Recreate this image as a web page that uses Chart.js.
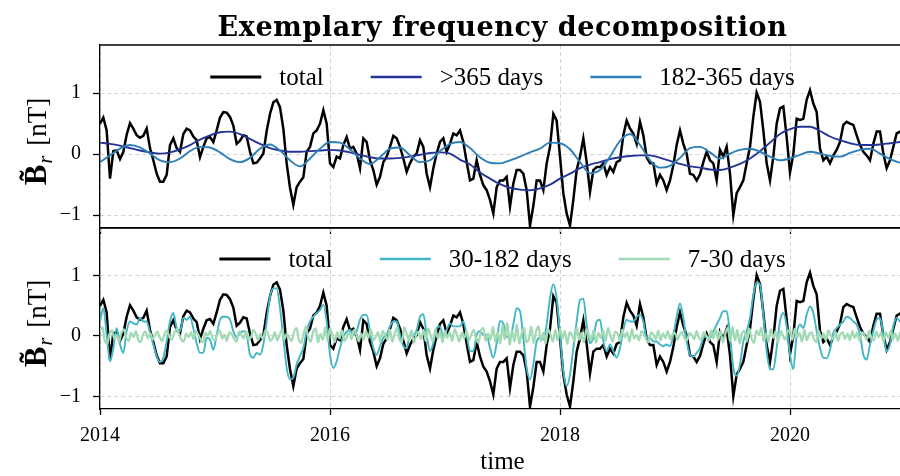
<!DOCTYPE html>
<html>
<head>
<meta charset="utf-8">
<script src="https://cdn.jsdelivr.net/npm/chart.js@4.4.1/dist/chart.umd.min.js"></script>
<style>
  html, body { margin: 0; padding: 0; background: #fff; }
  #wrap { position: relative; width: 900px; height: 476px; overflow: hidden; }
  #wrap canvas { position: absolute; left: 0; }
  #top { top: 0; }
  #bottom { top: 180px; }
</style>
</head>
<body>
<div id="wrap">
  <canvas id="top" width="906" height="258"></canvas>
  <canvas id="bottom" width="906" height="296"></canvas>
</div>
<script>
// time axis: decimal years
const T0 = 2014;
const STEP = 2 / 69;        // ~10.6 days, total and 30-182 day band
const SLOW_STEP = 6 / 69;   // ~32 days, the two slow bands
const NOISE_STEP = 1 / 48;  // ~7.6 days, 7-30 day band

const xTicks = [2014, 2016, 2018, 2020];
const yTicks = [-1, 0, 1];

const total = [
  0.50, 0.60, 0.39, -0.40, 0.05, 0.06, -0.08, 0.04, 0.32, 0.51,
  0.42, 0.31, 0.27, 0.30, 0.42, 0.10, -0.10, -0.32, -0.45, -0.45,
  -0.34, 0.15, 0.26, 0.10, 0.04, 0.33, 0.42, 0.39, 0.29, 0.23,
  -0.05, 0.12, 0.26, 0.28, 0.20, 0.39, 0.60, 0.69, 0.68, 0.61,
  0.47, 0.17, 0.22, 0.31, 0.29, 0.04, -0.15, -0.14, -0.07, 0.01,
  0.38, 0.66, 0.85, 0.89, 0.77, 0.42, -0.15, -0.55, -0.83, -0.54,
  -0.45, -0.38, 0.04, 0.12, 0.34, 0.39, 0.50, 0.72, 0.50, -0.15,
  -0.21, -0.04, -0.07, 0.15, 0.28, 0.09, 0.12, 0.01, -0.23, 0.26,
  0.20, -0.10, -0.26, -0.50, -0.37, -0.13, -0.04, 0.12, 0.30, 0.26,
  0.12, -0.07, -0.29, -0.15, -0.04, 0.01, 0.23, 0.12, -0.32, -0.54,
  -0.23, 0.01, 0.20, 0.26, 0.04, 0.17, 0.34, 0.31, 0.39, 0.20,
  -0.13, -0.43, -0.40, -0.10, -0.34, -0.51, -0.59, -0.75, -0.97, -0.54,
  -0.43, -0.43, -0.37, -0.86, -0.48, -0.26, -0.26, -0.32, -0.59, -1.17,
  -0.85, -0.43, -0.43, -0.59, -0.15, 0.12, 0.66, 0.55, -0.04, -0.64,
  -0.97, -1.17, -0.75, -0.26, -0.04, 0.26, -0.13, -0.62, -0.26, -0.21,
  -0.21, -0.15, -0.34, -0.21, -0.29, -0.13, -0.10, 0.31, 0.55, 0.42,
  0.34, 0.17, 0.53, 0.31, -0.05, -0.15, -0.15, -0.48, -0.34, -0.43,
  -0.59, -0.43, -0.18, 0.15, 0.39, 0.17, 0.01, -0.32, -0.34, -0.43,
  -0.33, -0.13, 0.04, -0.10, -0.15, -0.43, 0.07, -0.04, 0.12, -0.32,
  -1.00, -0.64, -0.54, -0.43, -0.15, 0.12, 0.61, 1.01, 0.86, 0.39,
  -0.15, -0.43, -0.04, 0.50, 0.75, 0.78, 0.28, -0.30, 0.00, 0.58,
  0.56, 0.58, 0.89, 1.05, 0.83, 0.69, 0.09, -0.10, -0.04, -0.15,
  -0.02, 0.07, 0.20, 0.48, 0.53, 0.50, 0.48, 0.31, 0.15, 0.04,
  -0.02, -0.10, 0.17, 0.37, 0.37, 0.01, -0.23, -0.10, 0.12, 0.34,
  0.37, 0.30
];

const band30to182 = [
  0.24, 0.46, 0.02, -0.42, -0.20, 0.13, -0.14, -0.28, 0.08, 0.24,
  0.21, 0.19, 0.30, 0.24, 0.24, 0.05, -0.14, -0.34, -0.43, -0.36,
  -0.09, 0.24, 0.38, 0.13, 0.08, 0.30, 0.27, 0.32, 0.13, -0.12,
  -0.28, -0.28, -0.03, -0.06, -0.23, 0.02, 0.27, 0.32, 0.32, 0.27,
  0.08, -0.03, 0.05, 0.08, 0.02, -0.31, -0.36, -0.28, -0.31, -0.14,
  0.24, 0.65, 0.79, 0.79, 0.46, -0.03, -0.53, -0.72, -0.69, -0.47,
  -0.33, -0.20, 0.08, 0.24, 0.32, 0.38, 0.43, 0.52, 0.24, -0.31,
  -0.53, -0.42, -0.20, -0.01, 0.07, 0.10, 0.02, 0.08, 0.27, 0.35,
  0.35, 0.08, -0.20, -0.31, -0.17, -0.03, 0.02, 0.16, 0.24, 0.24,
  0.02, -0.17, -0.20, 0.02, 0.02, 0.10, 0.32, 0.36, 0.02, -0.25,
  -0.12, 0.13, 0.16, -0.03, 0.10, 0.21, 0.16, 0.16, 0.16, 0.24,
  0.02, -0.25, -0.25, 0.02, 0.08, 0.02, 0.02, -0.20, -0.36, -0.12,
  0.25, 0.21, -0.01, -0.03, 0.19, 0.46, 0.41, -0.03, -0.53, -0.72,
  -0.47, -0.09, -0.03, -0.06, 0.19, 0.63, 0.86, 0.63, 0.02, -0.58,
  -0.83, -0.64, -0.20, 0.24, 0.60, 0.62, 0.19, -0.12, -0.03, 0.24,
  0.27, -0.09, -0.25, -0.14, -0.25, -0.36, -0.20, 0.10, 0.27, 0.24,
  0.24, 0.32, 0.35, 0.24, -0.03, -0.03, -0.09, -0.09, -0.14, -0.17,
  -0.14, -0.17, 0.02, 0.32, 0.54, 0.30, -0.09, -0.31, -0.34, -0.28,
  -0.20, -0.03, -0.01, -0.03, 0.08, 0.19, 0.30, 0.41, 0.41, 0.02,
  -0.53, -0.66, -0.47, -0.09, 0.08, 0.30, 0.68, 0.89, 0.85, 0.35,
  -0.25, -0.55, -0.55, -0.20, 0.24, 0.38, 0.16, -0.31, -0.55, 0.02,
  0.19, 0.13, 0.35, 0.49, 0.38, 0.08, -0.20, -0.36, -0.37, -0.23,
  0.05, 0.13, 0.19, 0.24, 0.32, 0.30, 0.24, 0.19, 0.02, -0.31,
  -0.39, -0.14, 0.08, 0.27, 0.30, 0.02, -0.25, -0.14, 0.16, 0.30,
  0.24, 0.15
];

const bandOver365 = [
  0.19, 0.17, 0.14, 0.10, 0.06, 0.03, 0.01, 0.03, 0.08, 0.15,
  0.24, 0.31, 0.36, 0.37, 0.33, 0.25, 0.17, 0.10, 0.06, 0.04,
  0.04, 0.05, 0.06, 0.07, 0.06, 0.03, -0.01, -0.05, -0.07, -0.07,
  -0.06, -0.04, -0.01, 0.02, 0.03, 0.01, -0.09, -0.17, -0.30, -0.40,
  -0.49, -0.55, -0.58, -0.59, -0.56, -0.50, -0.40, -0.32, -0.23, -0.17,
  -0.13, -0.08, -0.05, -0.03, -0.02, -0.02, -0.06, -0.11, -0.16, -0.20,
  -0.22, -0.25, -0.26, -0.22, -0.16, -0.07, 0.05, 0.19, 0.33, 0.41,
  0.45, 0.45, 0.38, 0.29, 0.23, 0.18, 0.15, 0.15, 0.16, 0.18, 0.20
];

const band182to365 = [
  -0.13, -0.02, 0.09, 0.15, 0.11, 0.01, -0.10, -0.13, -0.07, 0.05,
  0.12, 0.11, 0.03, -0.08, -0.13, -0.06, 0.09, 0.16, 0.06, -0.10,
  -0.20, -0.07, 0.09, 0.20, 0.19, 0.08, -0.07, -0.16, -0.05, 0.09,
  0.11, -0.02, -0.13, -0.10, 0.05, 0.17, 0.20, 0.10, -0.05, -0.14,
  -0.15, -0.10, -0.04, 0.03, 0.09, 0.19, 0.18, 0.08, -0.13, -0.31,
  -0.26, -0.04, 0.22, 0.33, 0.15, -0.10, -0.22, -0.19, -0.06, 0.10,
  0.12, 0.03, -0.07, 0.01, 0.07, 0.09, 0.04, -0.04, -0.10, -0.07,
  -0.01, 0.04, 0.01, -0.03, -0.04, 0.02, 0.07, 0.09, 0.01, -0.08, -0.14
];

const band7to30 = [
  0.10, 0.14, -0.08, -0.13, 0.04, 0.09, -0.05, 0.02, -0.09, 0.06, 0.11, -0.03, -0.08, 0.05, -0.02, 0.08, -0.07, -0.10, 0.03, 0.07, -0.04, 0.05, -0.06, 0.02,
  0.07, -0.03, -0.08, 0.04, 0.09, -0.02, -0.06, 0.05, 0.12, 0.03, -0.07, -0.09, 0.04, -0.02, 0.06, -0.05, 0.08, 0.02, -0.06, -0.10, 0.05, 0.01, 0.08, -0.04,
  -0.07, 0.03, 0.09, -0.04, 0.02, -0.08, 0.06, 0.03, -0.05, -0.09, 0.07, 0.02, -0.04, 0.08, -0.06, -0.02, 0.10, 0.04, -0.07, 0.03, -0.05, 0.09, 0.06, -0.08,
  -0.04, 0.06, -0.07, 0.02, 0.10, -0.05, 0.04, -0.03, -0.08, 0.07, 0.13, -0.06, -0.11, 0.05, 0.15, -0.04, -0.09, 0.08, 0.12, -0.10, 0.03, -0.06, 0.14, -0.08,
  0.12, 0.02, -0.10, 0.06, -0.04, 0.09, -0.08, -0.02, 0.07, -0.05, 0.10, 0.03, -0.09, 0.04, -0.06, 0.08, -0.03, 0.11, -0.07, -0.02, 0.06, -0.09, 0.08, 0.02,
  -0.06, 0.10, -0.09, 0.04, 0.13, -0.06, -0.10, 0.14, 0.03, -0.07, 0.09, -0.11, 0.02, 0.07, -0.05, 0.10, -0.08, 0.12, 0.01, -0.09, 0.11, -0.04, 0.06, -0.10,
  0.08, -0.03, 0.06, -0.08, 0.11, 0.02, -0.09, 0.05, -0.04, 0.08, -0.07, 0.03, 0.10, -0.05, -0.11, 0.09, 0.13, -0.08, 0.04, -0.06, 0.15, -0.09, 0.06, -0.12,
  0.17, -0.05, 0.21, -0.14, 0.08, -0.09, 0.19, -0.12, 0.04, 0.13, -0.10, -0.06, 0.15, -0.11, 0.07, 0.16, -0.08, 0.05, -0.12, 0.11, 0.03, -0.09, 0.10, -0.07,
  0.12, -0.04, 0.08, -0.13, 0.06, 0.02, -0.09, 0.14, -0.06, 0.05, -0.10, 0.11, 0.03, -0.07, 0.09, -0.11, 0.05, -0.03, 0.10, -0.08, 0.13, 0.01, -0.09, 0.07,
  0.04, -0.08, 0.10, -0.02, 0.06, -0.09, 0.11, -0.04, 0.02, -0.07, 0.08, 0.03, -0.06, -0.10, 0.06, 0.02, -0.05, 0.09, -0.07, 0.04, -0.03, 0.08, -0.05, 0.03,
  0.05, -0.06, 0.02, 0.07, -0.04, -0.07, 0.05, 0.02, -0.05, 0.08, -0.03, -0.06, 0.06, 0.01, -0.08, 0.09, -0.04, 0.11, -0.06, 0.08, -0.10, 0.04, 0.13, -0.08,
  0.15, -0.07, 0.10, -0.12, 0.05, 0.08, -0.09, 0.12, -0.05, -0.11, 0.09, 0.02, 0.13, -0.08, 0.04, -0.09, 0.11, -0.03, 0.07, -0.10, 0.08, 0.02, -0.06, 0.07,
  0.10, -0.06, 0.12, -0.02, 0.05, -0.09, 0.10, -0.07, 0.03, 0.06, -0.05, -0.10, 0.08, -0.04, 0.04, -0.07, 0.09, 0.01, -0.05, 0.07, -0.08, 0.03, 0.06, -0.05,
  0.04, -0.07, 0.08, -0.03, 0.05, -0.08, 0.06, 0.02, -0.06, 0.09, -0.04, -0.07, 0.07, -0.02, 0.05, -0.09, 0.06, -0.03, 0.08, -0.05, 0.04, -0.08, 0.06, -0.04
];

const SERIF = '"Liberation Serif", "DejaVu Serif", serif';
const GRID = '#d4d4d4';

function toPoints(values, step) {
  return values.map((v, i) => ({ x: T0 + i * step, y: v }));
}

// title, y label, legend and top spine are drawn by hand
const panelDecor = {
  id: 'panelDecor',
  afterDatasetsDraw(chart, args, opts) {
    const { ctx, chartArea } = chart;
    const cx = (chartArea.left + chartArea.right) / 2;
    ctx.save();

    // top spine
    ctx.strokeStyle = '#000';
    ctx.lineWidth = 1.3;
    ctx.beginPath();
    ctx.moveTo(chartArea.left, chartArea.top);
    ctx.lineTo(chartArea.right, chartArea.top);
    ctx.stroke();

    // legend row inside the panel
    ctx.font = '25px ' + SERIF;
    ctx.textBaseline = 'middle';
    ctx.textAlign = 'left';
    const lineLen = 51, textGap = 18, itemGap = 47;
    const items = chart.data.datasets.map(ds => ({
      label: ds.label, color: ds.borderColor, width: ds.legendWidth,
      tw: ctx.measureText(ds.label).width
    }));
    let rowW = 0;
    items.forEach((it, k) => { rowW += lineLen + textGap + it.tw + (k ? itemGap : 0); });
    let x = cx - rowW / 2;
    const y = chartArea.top + opts.legendOffset;
    items.forEach(it => {
      ctx.strokeStyle = it.color;
      ctx.lineWidth = it.width;
      ctx.beginPath();
      ctx.moveTo(x, y);
      ctx.lineTo(x + lineLen, y);
      ctx.stroke();
      x += lineLen + textGap;
      ctx.fillStyle = '#000';
      ctx.fillText(it.label, x, y + 1);
      x += it.tw + itemGap;
    });

    // y label: B with tilde, subscript r, unit
    const cy = (chartArea.top + chartArea.bottom) / 2 + 5;
    ctx.translate(46, cy);
    ctx.rotate(-Math.PI / 2);
    ctx.textBaseline = 'alphabetic';
    ctx.fillStyle = '#000';
    const fB = 'bold 31px ' + SERIF, fSub = 'italic 20px ' + SERIF, fUnit = '27px ' + SERIF;
    ctx.font = fB; const wB = ctx.measureText('B').width;
    ctx.font = fSub; const wR = ctx.measureText('r').width;
    ctx.font = fUnit; const wU = ctx.measureText('[nT]').width;
    const gap = 10;
    let lx = -(wB + 1 + wR + gap + wU) / 2;
    ctx.font = fB;
    ctx.fillText('B\u0303', lx, 0);
    lx += wB + 1;
    ctx.font = fSub;
    ctx.fillText('r', lx, 6);
    lx += wR + gap;
    ctx.font = fUnit;
    ctx.fillText('[nT]', lx, 0);
    ctx.restore();

    if (opts.title) {
      ctx.save();
      ctx.font = 'bold 27px "DejaVu Serif", serif';
      ctx.letterSpacing = '0.6px';
      ctx.textAlign = 'center';
      ctx.textBaseline = 'alphabetic';
      ctx.fillStyle = '#000';
      ctx.fillText(opts.title, cx, 36);
      ctx.restore();
    }
  }
};

function yAxis() {
  return {
    type: 'linear',
    min: -1.21,
    max: 1.79,
    afterBuildTicks: s => { s.ticks = yTicks.map(v => ({ value: v })); },
    afterFit: s => { s.width = 100; },
    ticks: {
      font: { family: SERIF, size: 20 },
      color: '#000',
      padding: 12,
      callback: v => (v < 0 ? '\u2212' + Math.abs(v) : String(v))
    },
    grid: { color: GRID, lineWidth: 1, tickLength: 7, tickColor: '#000', tickWidth: 1.3 },
    border: { display: true, color: '#000', width: 1.3, dash: [4, 3] }
  };
}

function xAxis(height, showLabels) {
  return {
    type: 'linear',
    min: 2014,
    max: 2021,
    afterBuildTicks: s => { s.ticks = xTicks.map(v => ({ value: v })); },
    afterFit: s => { s.height = height; },
    ticks: {
      display: showLabels,
      font: { family: SERIF, size: 20 },
      color: '#000',
      padding: 9,
      maxRotation: 0,
      callback: v => String(v)
    },
    title: {
      display: showLabels,
      text: 'time',
      font: { family: SERIF, size: 25 },
      color: '#000',
      padding: { top: 0, bottom: -1 }
    },
    grid: { color: GRID, lineWidth: 1, tickLength: 6, tickColor: '#000', tickWidth: 1.3 },
    border: { display: true, color: '#000', width: 1.3, dash: [4, 3] }
  };
}

function lineSet(label, values, step, color, width, extra) {
  return Object.assign({
    label: label,
    data: toPoints(values, step),
    borderColor: color,
    borderWidth: width,
    legendWidth: width + 0.4,
    pointRadius: 0,
    fill: false,
    tension: 0
  }, extra);
}

function panelOptions(xHeight, showLabels, topPad, decor) {
  return {
    responsive: false,
    animation: false,
    layout: { padding: { top: topPad, right: 1, left: 0, bottom: 0 } },
    scales: { x: xAxis(xHeight, showLabels), y: yAxis() },
    plugins: { legend: { display: false }, tooltip: { enabled: false }, panelDecor: decor }
  };
}

new Chart(document.getElementById('top'), {
  type: 'line',
  data: {
    datasets: [
      lineSet('total', total, STEP, '#000000', 2.5, { order: 2 }),
      lineSet('>365 days', bandOver365, SLOW_STEP, '#253494', 1.9, { order: 1, cubicInterpolationMode: 'monotone' }),
      lineSet('182-365 days', band182to365, SLOW_STEP, '#2c7fb8', 1.9, { order: 0, cubicInterpolationMode: 'monotone' })
    ]
  },
  options: panelOptions(30, false, 45, { legendOffset: 32, title: 'Exemplary frequency decomposition' }),
  plugins: [panelDecor]
});

new Chart(document.getElementById('bottom'), {
  type: 'line',
  data: {
    datasets: [
      lineSet('total', total, STEP, '#000000', 2.5, { order: 2 }),
      lineSet('30-182 days', band30to182, STEP, '#41b6c4', 1.9, { order: 1, cubicInterpolationMode: 'monotone' }),
      lineSet('7-30 days', band7to30, NOISE_STEP, '#a1dab4', 2.2, { order: 0, tension: 0.3 })
    ]
  },
  options: panelOptions(67, true, 48, { legendOffset: 31 }),
  plugins: [panelDecor]
});
</script>
</body>
</html>
